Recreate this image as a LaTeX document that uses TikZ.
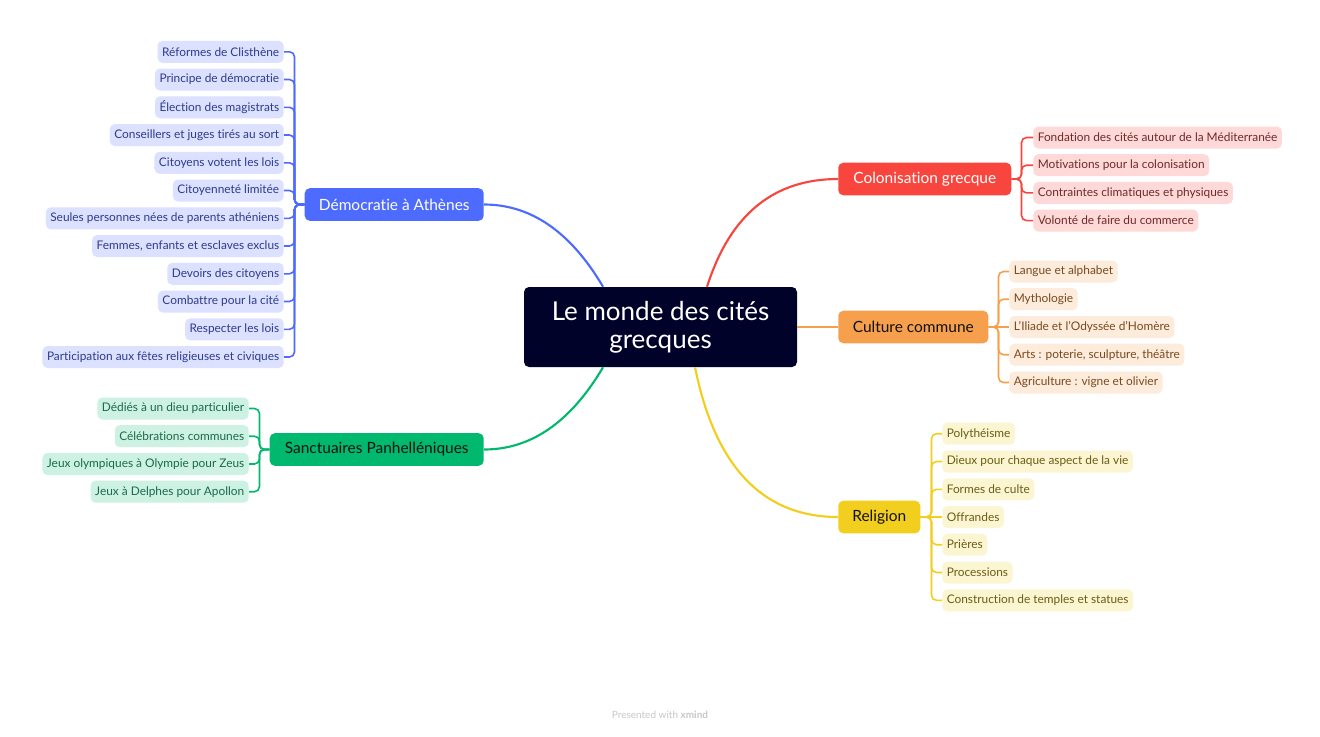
\documentclass[tikz,border=0pt]{standalone}
\usepackage{fontspec}
\setmainfont{Lato}[Ligatures=NoCommon]
\definecolor{cnavy}{HTML}{000229}
\definecolor{cblue}{HTML}{4D6BFE}
\definecolor{cgreen}{HTML}{00B96F}
\definecolor{cred}{HTML}{F8463F}
\definecolor{corange}{HTML}{F6A04D}
\definecolor{cyellow}{HTML}{F2CF1F}
\definecolor{lblue}{HTML}{DCE1FF}
\definecolor{tblue}{HTML}{2D3C8C}
\definecolor{lgreen}{HTML}{CDF1E2}
\definecolor{tgreen}{HTML}{1B6B4A}
\definecolor{lred}{HTML}{FED9D8}
\definecolor{tred}{HTML}{6E2B29}
\definecolor{lorange}{HTML}{FDEBDB}
\definecolor{torange}{HTML}{7A4A1F}
\definecolor{lyellow}{HTML}{FCF5D2}
\definecolor{tyellow}{HTML}{6B5D14}
\definecolor{tdark}{HTML}{111111}
\begin{document}
\begin{tikzpicture}[x=0.75pt,y=-0.75pt,
  central/.style={fill=cnavy, text=white, rounded corners=3.75pt, minimum width=204.75pt, minimum height=60pt, align=center, inner sep=2pt, font=\fontsize{19.5}{21}\selectfont},
  topic/.style={rounded corners=3.75pt, minimum height=24.4pt, inner xsep=3pt, inner ysep=0pt, font=\fontsize{11.6}{14}\selectfont},
  leaf/.style={rounded corners=3.75pt, minimum height=16.5pt, inner xsep=3.4pt, inner ysep=0pt, font=\fontsize{8.9}{11}\selectfont},
  leafB/.style={leaf, fill=lblue, text=tblue, anchor=east},
  leafG/.style={leaf, fill=lgreen, text=tgreen, anchor=east},
  leafR/.style={leaf, fill=lred, text=tred, anchor=west},
  leafO/.style={leaf, fill=lorange, text=torange, anchor=west},
  leafY/.style={leaf, fill=lyellow, text=tyellow, anchor=west},
  mainline/.style={line width=1.6pt},
  spine/.style={line width=1.2pt, rounded corners=3.75pt},
]
\useasboundingbox[fill=white] (0,0) rectangle (1320,736);

% central
\node[central] (c) at (660.5,327) {Le monde des cités\\grecques};

% topics
\node[topic, fill=cblue, text=white, minimum width=134.25pt, anchor=east] (dem) at (484,204.5) {Démocratie à Athènes};
\node[topic, fill=cgreen, text=tdark, minimum width=160.5pt, anchor=east] (san) at (484,449.5) {Sanctuaires Panhelléniques};
\node[topic, fill=cred, text=white, minimum width=129.75pt, anchor=west] (col) at (838,179) {Colonisation grecque};
\node[topic, fill=corange, text=tdark, minimum width=112.5pt, anchor=west] (cul) at (838,327) {Culture commune};
\node[topic, fill=cyellow, text=tdark, minimum width=61.5pt, anchor=west] (rel) at (838,517) {Religion};

% main connectors
\draw[mainline, cblue] ([xshift=-43.1pt]c.north) .. controls +(-32.7,-55.3) and +(46.7,0) .. (dem.east);
\draw[mainline, cgreen] ([xshift=-43.1pt]c.south) .. controls +(-32.7,55.3) and +(46.7,0) .. (san.east);
\draw[mainline, cred] ([xshift=34.9pt]c.north) .. controls +(23,-72.3) and +(-64.3,0) .. (col.west);
\draw[mainline, corange] (c.east) -- (cul.west);
\draw[mainline, cyellow] ([xshift=25.9pt]c.south) .. controls +(20,99.3) and +(-75.3,0) .. (rel.west);

% Democratie leaves
\node[leafB] (d1) at (284,51.8) {Réformes de Clisthène};
\node[leafB] (d2) at (284,79.5) {Principe de démocratie};
\node[leafB] (d3) at (284,107.3) {Élection des magistrats};
\node[leafB] (d4) at (284,135) {Conseillers et juges tirés au sort};
\node[leafB] (d5) at (284,162.8) {Citoyens votent les lois};
\node[leafB] (d6) at (284,190.5) {Citoyenneté limitée};
\node[leafB] (d7) at (284,218.3) {Seules personnes nées de parents athéniens};
\node[leafB] (d8) at (284,246) {Femmes, enfants et esclaves exclus};
\node[leafB] (d9) at (284,273.8) {Devoirs des citoyens};
\node[leafB] (d10) at (284,301.5) {Combattre pour la cité};
\node[leafB] (d11) at (284,329.3) {Respecter les lois};
\node[leafB] (d12) at (284,357) {Participation aux fêtes religieuses et civiques};
\foreach \i in {1,...,12} \draw[spine, cblue] (dem.west) -- ++(-10,0) |- (d\i.east);

% Sanctuaires leaves
\node[leafG] (s1) at (249,408.5) {Dédiés à un dieu particulier};
\node[leafG] (s2) at (249,436.2) {Célébrations communes};
\node[leafG] (s3) at (249,464) {Jeux olympiques à Olympie pour Zeus};
\node[leafG] (s4) at (249,491.7) {Jeux à Delphes pour Apollon};
\foreach \i in {1,...,4} \draw[spine, cgreen] (san.west) -- ++(-10,0) |- (s\i.east);

% Colonisation leaves
\node[leafR] (r1) at (1033,137.5) {Fondation des cités autour de la Méditerranée};
\node[leafR] (r2) at (1033,165.2) {Motivations pour la colonisation};
\node[leafR] (r3) at (1033,192.9) {Contraintes climatiques et physiques};
\node[leafR] (r4) at (1033,220.6) {Volonté de faire du commerce};
\foreach \i in {1,...,4} \draw[spine, cred] (col.east) -- ++(10,0) |- (r\i.west);

% Culture leaves
\node[leafO] (o1) at (1009,271.5) {Langue et alphabet};
\node[leafO] (o2) at (1009,299.2) {Mythologie};
\node[leafO] (o3) at (1009,327) {L'Iliade et l'Odyssée d'Homère};
\node[leafO] (o4) at (1009,354.7) {Arts : poterie, sculpture, théâtre};
\node[leafO] (o5) at (1009,382.5) {Agriculture : vigne et olivier};
\foreach \i in {1,2,4,5} \draw[spine, corange] (cul.east) -- ++(10,0) |- (o\i.west);
\draw[spine, corange] (cul.east) -- (o3.west);

% Religion leaves
\node[leafY] (y1) at (942,433.7) {Polythéisme};
\node[leafY] (y2) at (942,461.5) {Dieux pour chaque aspect de la vie};
\node[leafY] (y3) at (942,489.3) {Formes de culte};
\node[leafY] (y4) at (942,517) {Offrandes};
\node[leafY] (y5) at (942,544.7) {Prières};
\node[leafY] (y6) at (942,572.5) {Processions};
\node[leafY] (y7) at (942,600.3) {Construction de temples et statues};
\foreach \i in {1,2,3,5,6,7} \draw[spine, cyellow] (rel.east) -- ++(11,0) |- (y\i.west);
\draw[spine, cyellow] (rel.east) -- (y4.west);

% footer
\node[text=black!22, font=\fontsize{7.5}{9}\selectfont] (ft) at (660,715) {Presented with \textbf{xmind}};
\end{tikzpicture}
\end{document}
